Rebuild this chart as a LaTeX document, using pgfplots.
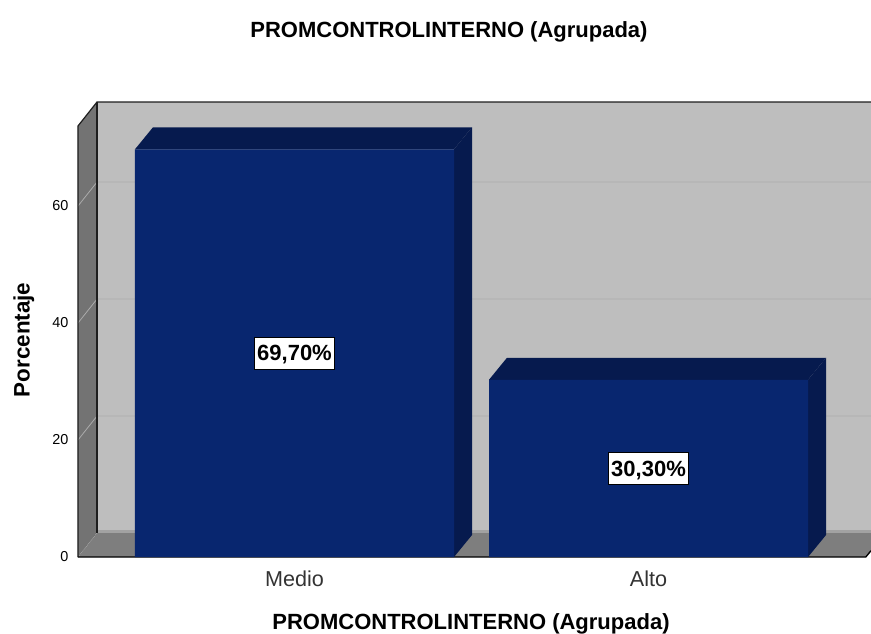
\documentclass[border=0pt]{standalone}
\usepackage{fontspec}
\setmainfont{Liberation Sans}
\usepackage{pgfplots}
\pgfplotsset{compat=1.18}
\definecolor{wall}{HTML}{BEBEBE}
\definecolor{lwall}{HTML}{737373}
\definecolor{floorc}{HTML}{7E7E7E}
\definecolor{band}{HTML}{A2A2A2}
\definecolor{gridc}{HTML}{ABABAB}
\definecolor{front}{HTML}{08266F}
\definecolor{dark}{HTML}{061A4E}
\definecolor{edge}{HTML}{1E1E1E}
\pgfplotstableread{
x y
0 69.7
1 30.3
}\bars
\begin{document}
\begin{tikzpicture}
\useasboundingbox (0,0) rectangle (653.25pt,474.75pt);
\begin{axis}[
  at={(58.5pt,57pt)}, anchor=south west,
  scale only axis, width=594.75pt, height=341.25pt,
  xmin=-0.6116, xmax=1.6285, ymin=0, ymax=77.78,
  clip=false,
  axis line style={draw=none}, tick style={draw=none},
  xtick={0,1}, xticklabels={Medio,Alto},
  ytick={0,20,40,60},
  /pgf/number format/assume math mode=true,
  xticklabel style={font=\fontsize{16.2}{18}\selectfont, text=black!80, yshift=-6.5pt},
  yticklabel style={font=\fontsize{10.8}{12}\selectfont, xshift=-3.7pt},
  title={\textbf{PROMCONTROLINTERNO (Agrupada)}},
  title style={at={(rel axis cs:0.4678,1.1362)}, anchor=center, font=\fontsize{16.5}{18}\selectfont},
  xlabel={\textbf{PROMCONTROLINTERNO (Agrupada)}},
  xlabel style={at={(rel axis cs:0.4956,-0.1473)}, anchor=center, font=\fontsize{16.5}{18}\selectfont},
  ylabel={\textbf{Porcentaje}},
  ylabel style={at={(rel axis cs:-0.0684,0.477)}, anchor=center, font=\fontsize{16.8}{18}\selectfont},
]
% back wall, left wall, floor
\addplot[fill=wall,draw=none] coordinates {(-0.5579,4.1)(1.6285,4.1)(1.6285,77.78)(-0.5579,77.78)} --cycle;
\addplot[fill=band,draw=none] coordinates {(-0.5579,4.1)(1.6285,4.1)(1.6285,4.6)(-0.5579,4.6)} --cycle;
\addplot[fill=lwall,draw=none] coordinates {(-0.6116,0)(-0.5579,4.1)(-0.5579,77.78)(-0.6116,73.68)} --cycle;
\addplot[fill=floorc,draw=none] coordinates {(-0.6116,0)(1.6138,0)(1.6285,1.08)(1.6285,4.1)(-0.5579,4.1)} --cycle;
% grid lines
\addplot[gridc,line width=0.6pt] coordinates {(-0.6116,20)(-0.5579,24.1)(1.6285,24.1)};
\addplot[gridc,line width=0.6pt] coordinates {(-0.6116,40)(-0.5579,44.1)(1.6285,44.1)};
\addplot[gridc,line width=0.6pt] coordinates {(-0.6116,60)(-0.5579,64.1)(1.6285,64.1)};
\addplot[gridc,line width=0.4pt,densely dotted] coordinates {(-0.6116,0)(-0.5579,4.1)};
% frame
\addplot[edge,line width=0.9pt] coordinates {(-0.5579,4.1)(-0.5579,77.78)};
\addplot[edge,line width=0.9pt] coordinates {(-0.6116,0)(-0.6116,73.68)(-0.5579,77.78)(1.6285,77.78)};
\addplot[black,line width=1pt] coordinates {(-0.6116,0)(1.6138,0)(1.6285,1.08)};
% bar depth
\addplot[fill=dark,draw=none] coordinates {(0.4506,0)(0.5014,3.76)(0.5014,73.46)(0.4506,69.7)} --cycle;
\addplot[fill=dark,draw=none] coordinates {(-0.4506,69.7)(-0.3998,73.46)(0.5014,73.46)(0.4506,69.7)} --cycle;
\addplot[fill=dark,draw=none] coordinates {(1.4506,0)(1.5014,3.76)(1.5014,34.06)(1.4506,30.3)} --cycle;
\addplot[fill=dark,draw=none] coordinates {(0.5494,30.3)(0.6002,34.06)(1.5014,34.06)(1.4506,30.3)} --cycle;
% bar fronts
\addplot[ybar,bar width=0.9012,fill=front,draw=none] table[x=x,y=y] {\bars};
% value labels
\node[fill=white,draw=black,line width=0.5pt,inner sep=0pt,minimum width=60pt,minimum height=24pt,text height=11.5pt,text depth=0pt,font=\fontsize{16.5}{18}\selectfont\bfseries] at (axis cs:0,34.85) {69,70\%};
\node[fill=white,draw=black,line width=0.5pt,inner sep=0pt,minimum width=60pt,minimum height=24pt,text height=11.5pt,text depth=0pt,font=\fontsize{16.5}{18}\selectfont\bfseries] at (axis cs:1,15.15) {30,30\%};
\end{axis}
\end{tikzpicture}
\end{document}
